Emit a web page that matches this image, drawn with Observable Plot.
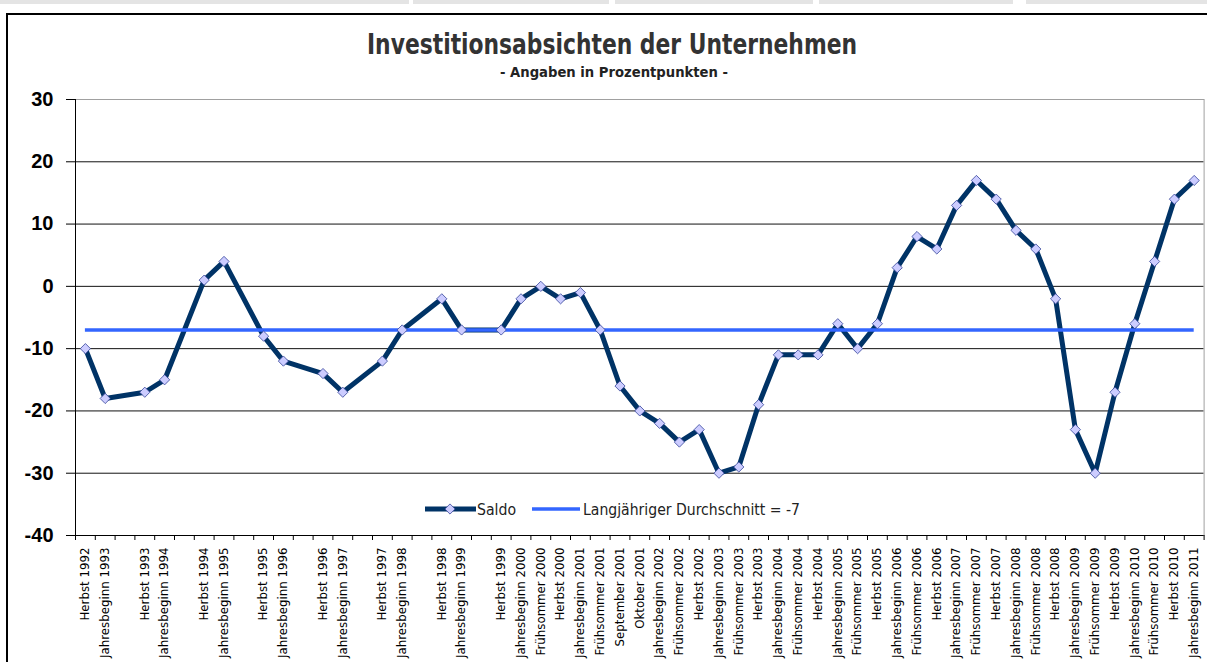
<!DOCTYPE html>
<html>
<head>
<meta charset="utf-8">
<script src="https://cdn.jsdelivr.net/npm/d3@7"></script>
<script src="https://cdn.jsdelivr.net/npm/@observablehq/plot@0.6"></script>
<style>
  html, body { margin: 0; padding: 0; overflow: hidden; background: #fff; }
  #wrap { position: relative; width: 1207px; height: 662px; }
  .bar { position: absolute; top: 0; height: 4px; background: #e4e4e4; }
  #frame { position: absolute; left: 6px; top: 13px; width: 1220px; height: 700px; border-left: 2px solid #000; border-top: 2px solid #000; }
  #chart { position: absolute; left: 0; top: 0; }
  #overlay { position: absolute; left: 0; top: 0; pointer-events: none; }
</style>
</head>
<body>
<div id="wrap">
  <div class="bar" style="left:0;width:409px"></div>
  <div class="bar" style="left:413px;width:196px"></div>
  <div class="bar" style="left:615px;width:198px"></div>
  <div class="bar" style="left:819px;width:194px"></div>
  <div class="bar" style="left:1026px;width:181px"></div>
  <div id="frame"></div>
  <div id="chart"></div>
  <svg id="overlay" width="1207" height="662" xmlns="http://www.w3.org/2000/svg">
    <text id="title" x="612" y="54" text-anchor="middle" textLength="490" lengthAdjust="spacingAndGlyphs"
      font-family="DejaVu Sans Condensed, DejaVu Sans" font-stretch="condensed" font-weight="bold" font-size="29" fill="#333"></text>
    <text id="subtitle" x="614" y="77" text-anchor="middle" textLength="228" lengthAdjust="spacingAndGlyphs"
      font-family="DejaVu Sans Condensed, DejaVu Sans" font-stretch="condensed" font-weight="bold" font-size="14" fill="#222"></text>
    <g id="legend"></g>
  </svg>
</div>
<script>
// ---- data ----
const title = "Investitionsabsichten der Unternehmen";
const subtitle = "- Angaben in Prozentpunkten -";
const labels = ["Herbst 1992","Jahresbeginn 1993","","Herbst 1993","Jahresbeginn 1994","","Herbst 1994","Jahresbeginn 1995","","Herbst 1995","Jahresbeginn 1996","","Herbst 1996","Jahresbeginn 1997","","Herbst 1997","Jahresbeginn 1998","","Herbst 1998","Jahresbeginn 1999","","Herbst 1999","Jahresbeginn 2000","Frühsommer 2000","Herbst 2000","Jahresbeginn 2001","Frühsommer 2001","September 2001","Oktober 2001","Jahresbeginn 2002","Frühsommer 2002","Herbst 2002","Jahresbeginn 2003","Frühsommer 2003","Herbst 2003","Jahresbeginn 2004","Frühsommer 2004","Herbst 2004","Jahresbeginn 2005","Frühsommer 2005","Herbst 2005","Jahresbeginn 2006","Frühsommer 2006","Herbst 2006","Jahresbeginn 2007","Frühsommer 2007","Herbst 2007","Jahresbeginn 2008","Frühsommer 2008","Herbst 2008","Jahresbeginn 2009","Frühsommer 2009","Herbst 2009","Jahresbeginn 2010","Frühsommer 2010","Herbst 2010","Jahresbeginn 2011"];
const saldo = [-10,-18,null,-17,-15,null,1,4,null,-8,-12,null,-14,-17,null,-12,-7,null,-2,-7,null,
  -7,-2,0,-2,-1,-7,-16,-20,-22,-25,-23,-30,-29,-19,-11,-11,-11,-6,-10,-6,3,8,6,13,17,14,9,6,-2,-23,-30,-17,-6,4,14,17];
const durchschnitt = -7;
const yTicks = [-40,-30,-20,-10,0,10,20,30];
const seriesNames = ["Saldo", "Langjähriger Durchschnitt = -7"];

// ---- build ----
document.getElementById("title").textContent = title;
document.getElementById("subtitle").textContent = subtitle;

const n = labels.length;
const data = labels.map((label, i) => ({i, label, value: saldo[i]})).filter(d => d.value != null);
const labeled = labels.map((l, i) => i).filter(i => labels[i] !== "");
const boundaries = d3.range(n + 1).map(k => k - 0.5);
const yMin = d3.min(yTicks), yMax = d3.max(yTicks);

const chart = Plot.plot({
  width: 1207,
  height: 662,
  marginLeft: 75,
  marginRight: 3.4,
  marginTop: 99,
  marginBottom: 127,
  style: {background: "transparent", fontFamily: "DejaVu Sans", overflow: "visible"},
  x: {domain: [-0.5, n - 0.5], label: null},
  y: {domain: [yMin, yMax], label: null},
  marks: [
    Plot.gridY(yTicks.filter(t => t !== yMin && t !== yMax), {stroke: "#111", strokeOpacity: 1}),
    Plot.frame({stroke: "#a0a0a0"}),
    Plot.ruleY([yMin], {stroke: "#000"}),
    Plot.ruleX([-0.5], {stroke: "#000"}),
    Plot.axisY({ticks: yTicks, label: null, tickSize: 9, tickPadding: 13, tickFormat: d => String(d),
      fontSize: 20, fontWeight: "bold", fontFamily: "Liberation Sans, Arial", fill: "#000"}),
    Plot.axisX({ticks: boundaries, label: null, tickSize: 5, tickFormat: () => "", stroke: "#000"}),
    Plot.axisX({ticks: labeled, label: null, tickSize: 0, tickPadding: 12, tickRotate: -90,
      tickFormat: i => labels[i], fontSize: 11.8, fontFamily: "DejaVu Sans", fill: "#000"}),
    Plot.line(data, {x: "i", y: "value", stroke: "#003366", strokeWidth: 5, strokeLinejoin: "round"}),
    Plot.ruleY([durchschnitt], {x1: 0, x2: n - 1, stroke: "#3366ff", strokeWidth: 3.5}),
    Plot.dot(data, {x: "i", y: "value", symbol: "diamond2", r: 4.6, fill: "#ccccff", stroke: "#334499", strokeWidth: 0.8})
  ]
});
document.getElementById("chart").appendChild(chart);

// ---- legend ----
const lg = d3.select("#legend");
const ly = 509;
lg.append("line").attr("x1", 425).attr("x2", 476).attr("y1", ly).attr("y2", ly)
  .attr("stroke", "#003366").attr("stroke-width", 5);
lg.append("path").attr("d", d3.symbol(d3.symbolDiamond2, Math.PI * 4.6 * 4.6)())
  .attr("transform", `translate(450,${ly})`).attr("fill", "#ccccff").attr("stroke", "#334499").attr("stroke-width", 0.8);
lg.append("text").attr("x", 477).attr("y", ly + 6).attr("textLength", 39).attr("lengthAdjust", "spacingAndGlyphs")
  .attr("font-family", "DejaVu Sans Condensed, DejaVu Sans").attr("font-stretch", "condensed")
  .attr("font-size", 16).attr("fill", "#222").text(seriesNames[0]);
lg.append("line").attr("x1", 532).attr("x2", 580).attr("y1", ly).attr("y2", ly)
  .attr("stroke", "#3366ff").attr("stroke-width", 3.5);
lg.append("text").attr("x", 583).attr("y", ly + 6).attr("textLength", 217).attr("lengthAdjust", "spacingAndGlyphs")
  .attr("font-family", "DejaVu Sans Condensed, DejaVu Sans").attr("font-stretch", "condensed")
  .attr("font-size", 16).attr("fill", "#222").text(seriesNames[1]);
</script>
</body>
</html>
